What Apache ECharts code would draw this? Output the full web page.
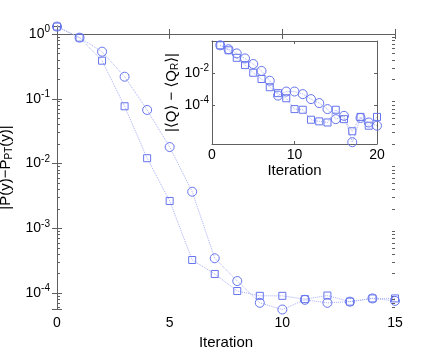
<!DOCTYPE html>
<html>
<head>
<meta charset="utf-8">
<script src="https://cdn.jsdelivr.net/npm/echarts@6/dist/echarts.min.js"></script>
<style>
  html, body { margin: 0; padding: 0; background: #fff; }
  #chart { width: 436px; height: 349px; }
</style>
</head>
<body>
<div id="chart"></div>
<script>
// main plot: |P(y) - P_PT(y)| per iteration
var mainIter = [0, 1, 2, 3, 4, 5, 6, 7, 8, 9, 10, 11, 12, 13, 14, 15];
var mainCircle = [1.30, 0.877, 0.533, 0.219, 0.0672, 0.0180, 0.00368, 3.46e-4, 1.54e-4, 7.1e-5, 5.6e-5, 7.9e-5, 7.1e-5, 7.4e-5, 8.3e-5, 7.6e-5];
var mainSquare = [1.30, 0.877, 0.387, 0.0766, 0.0121, 0.00265, 3.25e-4, 1.98e-4, 1.08e-4, 9.1e-5, 9.1e-5, 8.1e-5, 9.2e-5, 7.4e-5, 8.3e-5, 8.3e-5];

// inset: |<Q> - <Q_R>| per iteration
var insetIter = [1, 2, 3, 4, 5, 6, 7, 8, 9, 10, 11, 12, 13, 14, 15, 16, 17, 18, 19, 20];
var insetCircle = [0.51, 0.29, 0.16, 0.078, 0.035, 0.013, 0.0032, 3.8e-4, 6.8e-4, 6.8e-4, 4.7e-4, 2.3e-4, 1.3e-4, 5.5e-5, 1.3e-5, 2.1e-5, 4.8e-7, 1.55e-5, 8.1e-6, 5.1e-6];
var insetSquare = [0.51, 0.25, 0.085, 0.030, 0.010, 0.0041, 0.00126, 5.4e-4, 2.6e-4, 5.5e-5, 5.0e-5, 1.2e-5, 9.5e-6, 8.1e-6, 5.0e-5, 1.3e-5, 2.3e-6, 1.8e-5, 5.1e-6, 1.8e-5];

var mainExp = [-4.244, 0.123];   // log10 of y range, main
var insetExp = [-6.43, -0.025];  // log10 of y range, inset
var insetLabelExp = [-4, -2];

var FONT = 'Liberation Sans, Arial, DejaVu Sans, sans-serif';
var AXIS = '#5f5f5f';
var MARK = '#6675ee';
var LINE = '#a7b0f6';

// minor ticks at 2..9 x 10^n, in log space
var minorTicks = [];
for (var n = -5; n <= 0; n++) {
  for (var k = 2; k <= 9; k++) {
    var v = n + Math.log10(k);
    if (v > mainExp[0] && v < mainExp[1]) minorTicks.push(v);
  }
}

var pow10Rich = {
  b: { fontSize: 14, fontFamily: FONT, color: '#000' },
  s: { fontSize: 10, fontFamily: FONT, color: '#000', padding: [0, 0, 9, 0] }
};

function powLabel(val, only) {
  var e = Math.log10(val);
  var r = Math.round(e);
  if (Math.abs(e - r) > 1e-6) return '';
  if (only && only.indexOf(r) < 0) return '';
  return '{b|10}{s|' + r + '}';
}

function pairs(xs, ys) {
  return xs.map(function (x, i) { return [x, ys[i]]; });
}

var lineAxis = { lineStyle: { color: AXIS, width: 1 } };

function series(x, y, xi, yi, sym, size) {
  return {
    type: 'line', xAxisIndex: xi, yAxisIndex: yi,
    data: pairs(x, y),
    symbol: sym, symbolSize: size,
    itemStyle: { color: 'rgba(0,0,0,0)', borderColor: MARK, borderWidth: 1 },
    lineStyle: { type: 'dotted', width: 1, color: LINE },
    clip: false, z: 3
  };
}

var chart = echarts.init(document.getElementById('chart'));
chart.setOption({
  animation: false,
  backgroundColor: '#fff',
  grid: [
    { left: 57, top: 26, width: 338, height: 283, outerBoundsMode: 'none', containLabel: false },
    { left: 212, top: 41, width: 165, height: 103, outerBoundsMode: 'none', containLabel: false,
      show: true, backgroundColor: '#fff', borderWidth: 0, z: 5 }
  ],
  xAxis: [
    { type: 'value', gridIndex: 0, min: 0, max: 15, interval: 5, position: 'bottom',
      axisLine: lineAxis, axisTick: { inside: true, length: 5, lineStyle: { color: AXIS } },
      axisLabel: { margin: 7, fontSize: 14, fontFamily: FONT, color: '#000' }, splitLine: { show: false },
      name: 'Iteration', nameLocation: 'middle', nameGap: 18,
      nameTextStyle: { fontSize: 15, fontFamily: FONT, color: '#000' } },
    { type: 'value', gridIndex: 0, min: 0, max: 15, interval: 5, position: 'top',
      axisLine: lineAxis, axisTick: { inside: true, length: 5, lineStyle: { color: AXIS } },
      axisLabel: { show: false }, splitLine: { show: false } },
    { type: 'value', gridIndex: 1, min: 0, max: 20, interval: 10, position: 'bottom', z: 6,
      axisLine: lineAxis, axisTick: { inside: true, length: 3, lineStyle: { color: AXIS } },
      axisLabel: { margin: 4, fontSize: 14, fontFamily: FONT, color: '#000' }, splitLine: { show: false },
      name: 'Iteration', nameLocation: 'middle', nameGap: 15,
      nameTextStyle: { fontSize: 15, fontFamily: FONT, color: '#000' } },
    { type: 'value', gridIndex: 1, min: 0, max: 20, interval: 10, position: 'top', z: 6,
      axisLine: lineAxis, axisTick: { inside: true, length: 3, lineStyle: { color: AXIS } },
      axisLabel: { show: false }, splitLine: { show: false } }
  ],
  yAxis: [
    { type: 'log', gridIndex: 0, min: Math.pow(10, mainExp[0]), max: Math.pow(10, mainExp[1]), position: 'left',
      axisLine: lineAxis, axisTick: { inside: true, length: 5, lineStyle: { color: AXIS } },
      axisLabel: { margin: 7, formatter: function (v) { return powLabel(v); }, rich: pow10Rich },
      splitLine: { show: false },
      name: '|P(y)\u2212P{sub|PT}(y)|', nameLocation: 'middle', nameGap: 38, nameRotate: 90,
      nameTextStyle: { fontSize: 15, fontFamily: FONT, color: '#000',
        rich: { sub: { fontSize: 10, fontFamily: FONT, color: '#000', padding: [7, 0, 0, 0] } } } },
    { type: 'log', gridIndex: 0, min: Math.pow(10, mainExp[0]), max: Math.pow(10, mainExp[1]), position: 'right',
      axisLine: lineAxis, axisTick: { inside: true, length: 5, lineStyle: { color: AXIS } },
      axisLabel: { show: false }, splitLine: { show: false } },
    { type: 'value', gridIndex: 0, min: mainExp[0], max: mainExp[1], position: 'left',
      axisLine: { show: false }, axisLabel: { show: false }, splitLine: { show: false },
      axisTick: { inside: true, length: 3, customValues: minorTicks, lineStyle: { color: AXIS } } },
    { type: 'value', gridIndex: 0, min: mainExp[0], max: mainExp[1], position: 'right',
      axisLine: { show: false }, axisLabel: { show: false }, splitLine: { show: false },
      axisTick: { inside: true, length: 3, customValues: minorTicks, lineStyle: { color: AXIS } } },
    { type: 'log', gridIndex: 1, min: Math.pow(10, insetExp[0]), max: Math.pow(10, insetExp[1]), position: 'left', z: 6,
      axisLine: lineAxis, axisTick: { show: false },
      axisLabel: { margin: 3, formatter: function (v) { return powLabel(v, insetLabelExp); }, rich: pow10Rich },
      splitLine: { show: false },
      name: '|\u27E8Q\u27E9 \u2212 \u27E8Q{sub|R}\u27E9|', nameLocation: 'middle', nameGap: 31, nameRotate: 90,
      nameTextStyle: { fontSize: 15, fontFamily: FONT, color: '#000',
        rich: { sub: { fontSize: 10, fontFamily: FONT, color: '#000', padding: [7, 0, 0, 0] } } } },
    { type: 'value', gridIndex: 1, min: insetExp[0], max: insetExp[1], position: 'left', z: 6,
      axisLine: { show: false }, axisLabel: { show: false }, splitLine: { show: false },
      axisTick: { inside: true, length: 3, customValues: insetLabelExp, lineStyle: { color: AXIS } } },
    { type: 'value', gridIndex: 1, min: insetExp[0], max: insetExp[1], position: 'right', z: 6,
      axisLine: lineAxis, axisLabel: { show: false }, splitLine: { show: false },
      axisTick: { inside: true, length: 3, customValues: insetLabelExp, lineStyle: { color: AXIS } } }
  ],
  series: [
    series(mainIter, mainCircle, 0, 0, 'circle', 9),
    series(mainIter, mainSquare, 0, 0, 'rect', 7),
    Object.assign(series(insetIter, insetCircle, 2, 4, 'circle', 9), { z: 7 }),
    Object.assign(series(insetIter, insetSquare, 2, 4, 'rect', 7), { z: 7 })
  ]
});
</script>
</body>
</html>
